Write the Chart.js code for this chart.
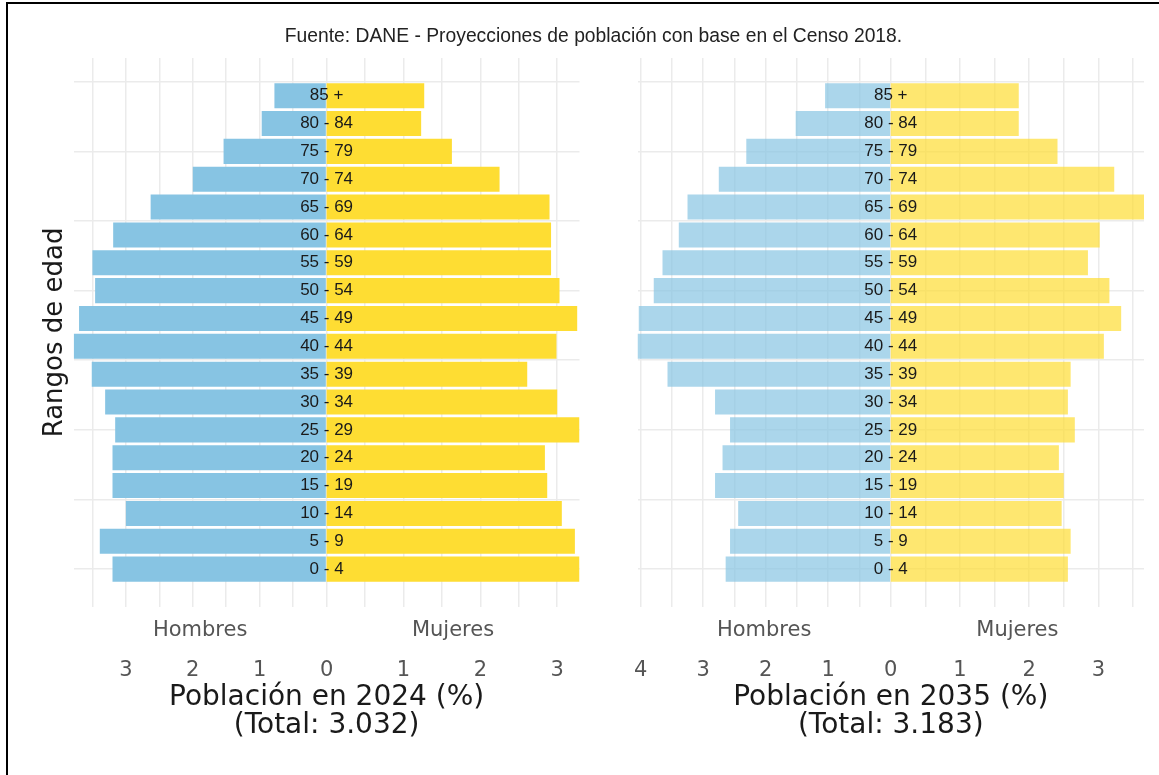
<!DOCTYPE html>
<html>
<head>
  <title>Pirámide poblacional 2024 - 2035</title>
  <style>
    body { margin: 0; background: #fff; }
    .frame { position: absolute; left: 6px; top: 2px; width: 1153px; height: 773px;
             border-left: 2px solid #000; border-top: 2px solid #000; }
    .source { position: absolute; left: 0; top: 25px; width: 1187px; line-height: 22px;
              text-align: center; font: 19.3px "Liberation Sans", Arial, sans-serif; color: #222; }
    canvas { position: absolute; top: 0; }
  </style>
  <script src="https://cdn.jsdelivr.net/npm/chart.js"></script>
</head>
<body>
  <div class="frame"></div>
  <canvas id="pyr2024" width="600" height="775" style="left:0"></canvas>
  <canvas id="pyr2035" width="559" height="775" style="left:600px"></canvas>
  <div class="source">Fuente: DANE - Proyecciones de población con base en el Censo 2018.</div>

  <script>
    // age groups, bottom to top
    const ageGroups = ['0 - 4', '5 - 9', '10 - 14', '15 - 19', '20 - 24', '25 - 29', '30 - 34', '35 - 39',
      '40 - 44', '45 - 49', '50 - 54', '55 - 59', '60 - 64', '65 - 69', '70 - 74', '75 - 79', '80 - 84', '85 +'];

    // % of population
    const men2024   = [3.20, 3.39, 3.00, 3.20, 3.20, 3.16, 3.31, 3.51, 3.78, 3.70, 3.46, 3.50, 3.19, 2.63, 2.00, 1.54, 0.97, 0.78];
    const women2024 = [3.29, 3.23, 3.06, 2.87, 2.84, 3.29, 3.00, 2.61, 2.99, 3.26, 3.03, 2.92, 2.92, 2.90, 2.25, 1.63, 1.23, 1.27];
    const men2035   = [2.64, 2.57, 2.44, 2.81, 2.69, 2.57, 2.81, 3.57, 4.05, 4.03, 3.79, 3.65, 3.39, 3.25, 2.75, 2.31, 1.52, 1.05];
    const women2035 = [2.56, 2.60, 2.47, 2.50, 2.43, 2.66, 2.56, 2.60, 3.08, 3.33, 3.16, 2.85, 3.02, 3.66, 3.23, 2.41, 1.85, 1.85];

    const yBreaks = [0, 2.5, 5, 7.5, 10, 12.5, 15, 17.5];
    const title2024 = ['Población en 2024 (%)', '(Total: 3.032)'];
    const title2035 = ['Población en 2035 (%)', '(Total: 3.183)'];

    const GRID = '#ebebeb';
    const GREY = '#555';
    const TICK_PAD = 53.8;
    const TICK_SIZE = 21;
    Chart.defaults.font.family = '"DejaVu Sans", Verdana, sans-serif';

    // age labels in the middle, women tick labels and Hombres / Mujeres
    const overlay = {
      id: 'overlay',
      afterDatasetsDraw(chart) {
        const { ctx, scales: { xM, y } } = chart;
        const x0 = xM.getPixelForValue(0);
        ctx.save();
        ctx.font = '17px "Liberation Sans", Arial, sans-serif';
        ctx.fillStyle = '#1a1a1a';
        ctx.textAlign = 'center';
        ctx.textBaseline = 'middle';
        ageGroups.forEach((g, i) => ctx.fillText(g, x0, y.getPixelForValue(i)));
        ctx.restore();
      },
      afterDraw(chart) {
        const { ctx, chartArea, scales: { xM, xW } } = chart;
        ctx.save();
        ctx.font = TICK_SIZE + 'px "DejaVu Sans", Verdana, sans-serif';
        ctx.fillStyle = GREY;
        ctx.textAlign = 'center';
        ctx.textBaseline = 'middle';
        const ly = xM.top + TICK_PAD + TICK_SIZE / 2;
        xW.ticks.filter(t => Number.isInteger(t.value) && t.value > 0)
          .forEach(t => ctx.fillText(String(t.value), xW.getPixelForValue(t.value), ly));
        const sy = chartArea.bottom + 24.3;
        ctx.fillText('Hombres', xM.getPixelForValue(xM.max / 2), sy);
        ctx.fillText('Mujeres', xW.getPixelForValue(xW.max / 2), sy);
        ctx.restore();
      }
    };

    function makePanel(id, men, women, alpha, xTitle, yTitle, pad) {
      const maxM = Math.max(...men);
      const maxW = Math.max(...women);
      return new Chart(document.getElementById(id), {
        type: 'bar',
        data: {
          datasets: [{
            label: 'Hombres',
            data: men.map((v, i) => ({ x: v, y: i })),
            xAxisID: 'xM',
            backgroundColor: 'rgba(135,196,227,' + alpha + ')',
            grouped: false, barPercentage: 0.9, categoryPercentage: 1, borderWidth: 0
          }, {
            label: 'Mujeres',
            data: women.map((v, i) => ({ x: v, y: i })),
            xAxisID: 'xW',
            backgroundColor: 'rgba(254,221,51,' + alpha + ')',
            grouped: false, barPercentage: 0.9, categoryPercentage: 1, borderWidth: 0
          }]
        },
        options: {
          indexAxis: 'y',
          responsive: false,
          animation: false,
          layout: { padding: pad },
          plugins: { legend: { display: false }, tooltip: { enabled: false } },
          scales: {
            y: {
              type: 'linear', min: -1.35, max: 18.35, offset: false,
              afterBuildTicks: s => { s.ticks = yBreaks.map(v => ({ value: v })); },
              ticks: { display: false },
              grid: { color: GRID, lineWidth: 1.5, drawTicks: false, offset: false },
              border: { display: false },
              title: {
                display: !!yTitle, text: yTitle, color: '#1a1a1a',
                font: { size: 26, lineHeight: 1 }, padding: { top: 0, bottom: 5.7 }
              }
            },
            xW: {
              type: 'linear', position: 'bottom', min: -maxW, max: maxW,
              afterBuildTicks: s => { s.ticks = s.ticks.filter(t => t.value > 0); },
              ticks: { display: false, stepSize: 0.5, includeBounds: false },
              grid: { color: GRID, lineWidth: 1.5, drawTicks: false },
              border: { display: false }
            },
            xM: {
              type: 'linear', position: 'bottom', reverse: true, min: -maxM, max: maxM,
              afterBuildTicks: s => { s.ticks = s.ticks.filter(t => t.value >= 0); },
              // the big tick padding should not push the plot area inwards
              afterFit: s => { s.paddingLeft = 0; s.paddingRight = 0; },
              ticks: {
                stepSize: 0.5, includeBounds: false, autoSkip: false, maxRotation: 0,
                padding: TICK_PAD, color: GREY, font: { size: TICK_SIZE, lineHeight: 1 },
                callback: v => Number.isInteger(v) ? String(v) : ''
              },
              grid: { color: GRID, lineWidth: 1.5, drawTicks: false },
              border: { display: false },
              title: {
                display: true, text: xTitle, color: '#1a1a1a',
                font: { size: 28, lineHeight: 1 }, padding: { top: -51.3, bottom: 0 }
              }
            }
          }
        },
        plugins: [overlay]
      });
    }

    makePanel('pyr2024', men2024, women2024, 1, title2024, 'Rangos de edad',
      { top: 58.1, left: 42, right: 20.5, bottom: 35 });
    makePanel('pyr2035', men2035, women2035, 0.7, title2035, '',
      { top: 58.1, left: 37.5, right: 15, bottom: 35 });
  </script>
</body>
</html>
